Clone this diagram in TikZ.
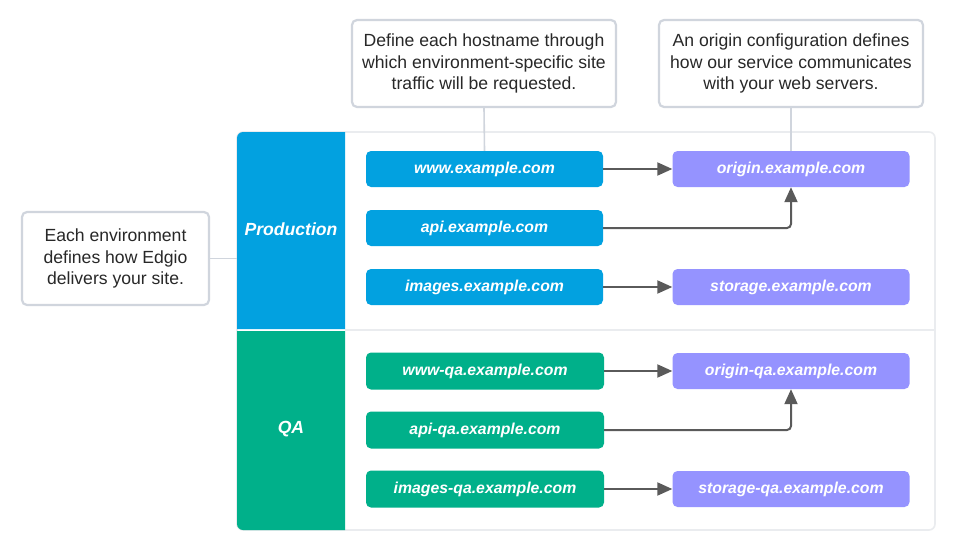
\documentclass[tikz,border=0pt]{standalone}
\usepackage{fontspec}
\setmainfont{Liberation Sans}
\usetikzlibrary{arrows.meta}
\definecolor{prodblue}{RGB}{2,161,224}
\definecolor{qagreen}{RGB}{0,176,138}
\definecolor{originpurple}{RGB}{149,147,255}
\definecolor{calloutborder}{RGB}{208,213,221}
\definecolor{containerborder}{RGB}{234,236,239}
\definecolor{arrowgray}{RGB}{90,90,90}
\definecolor{textgray}{RGB}{40,40,40}
\begin{document}
\begin{tikzpicture}[x=1pt,y=-1pt,
  hostbox/.style={rounded corners=5pt, minimum width=237pt, minimum height=36pt, inner sep=0pt,
    text=white, font=\fontsize{15.8}{18}\selectfont\bfseries\itshape},
  prodhost/.style={hostbox, fill=prodblue},
  qahost/.style={hostbox, fill=qagreen},
  originbox/.style={hostbox, fill=originpurple},
  callout/.style={draw=calloutborder, line width=2.2pt, rounded corners=5pt, fill=white, inner sep=0pt,
    align=center, text=textgray, font=\fontsize{17.6}{21.5}\selectfont},
  bandlabel/.style={text=white, font=\fontsize{17.6}{20}\selectfont\bfseries\itshape},
  flow/.style={draw=arrowgray, line width=2pt, -{Triangle[length=15pt,width=13pt]}},
  leader/.style={draw=calloutborder, line width=1.6pt}
]
\useasboundingbox (0,0) rectangle (960,554);
\fill[white] (0,0) rectangle (960,554);

% container
\draw[containerborder, line width=1.6pt, fill=white, rounded corners=6pt] (237,132) rectangle (935,530);
\draw[containerborder, line width=1.6pt] (345,330) -- (935,330);

% bands
\fill[prodblue, rounded corners=6pt] (345,132) -- (237,132) -- (237,170) [sharp corners] -- (237,329) -- (345,329) -- cycle;
\fill[qagreen, rounded corners=6pt] (345,530) -- (237,530) -- (237,490) [sharp corners] -- (237,331) -- (345,331) -- cycle;
\node[bandlabel] (prod) at (291,229) {Production};
\node[bandlabel] (qa) at (291,429) {QA};
\coordinate (prodwest) at (237,258);

% production hosts
\node[prodhost] (www) at (484.5,169) {www.example.com};
\node[prodhost] (api) at (484.5,228) {api.example.com};
\node[prodhost] (img) at (484.5,287) {images.example.com};
\node[originbox] (origin) at (791,169) {origin.example.com};
\node[originbox] (storage) at (791,287) {storage.example.com};

% qa hosts
\node[qahost, minimum width=238pt, minimum height=37pt] (wwwqa) at (485,371) {www-qa.example.com};
\node[qahost, minimum width=238pt, minimum height=37pt] (apiqa) at (485,430) {api-qa.example.com};
\node[qahost, minimum width=238pt, minimum height=37pt] (imgqa) at (485,489) {images-qa.example.com};
\node[originbox] (originqa) at (791,371) {origin-qa.example.com};
\node[originbox] (storageqa) at (791,489) {storage-qa.example.com};

% arrows
\draw[flow] (www.east) -- (origin.west);
\draw[flow, rounded corners=4pt] (api.east) -| (origin.south);
\draw[flow] (img.east) -- (storage.west);
\draw[flow] (wwwqa.east) -- (originqa.west);
\draw[flow, rounded corners=4pt] (apiqa.east) -| (originqa.south);
\draw[flow] (imgqa.east) -- (storageqa.west);

% callouts
\node[callout, minimum width=187pt, minimum height=93pt] (cenv) at (115.5,258.5)
  {Each environment\\defines how Edgio\\delivers your site.};
\node[callout, minimum width=264pt, minimum height=87pt] (chost) at (484,63.5)
  {Define each hostname through\\which environment-specific site\\traffic will be requested.};
\node[callout, minimum width=264pt, minimum height=87pt] (corigin) at (791,63.5)
  {An origin configuration defines\\how our service communicates\\with your web servers.};

\draw[leader] (cenv.east) -- (cenv.east -| prodwest);
\draw[leader] (chost.south) -- (www.north);
\draw[leader] (corigin.south) -- (origin.north);
\end{tikzpicture}
\end{document}
